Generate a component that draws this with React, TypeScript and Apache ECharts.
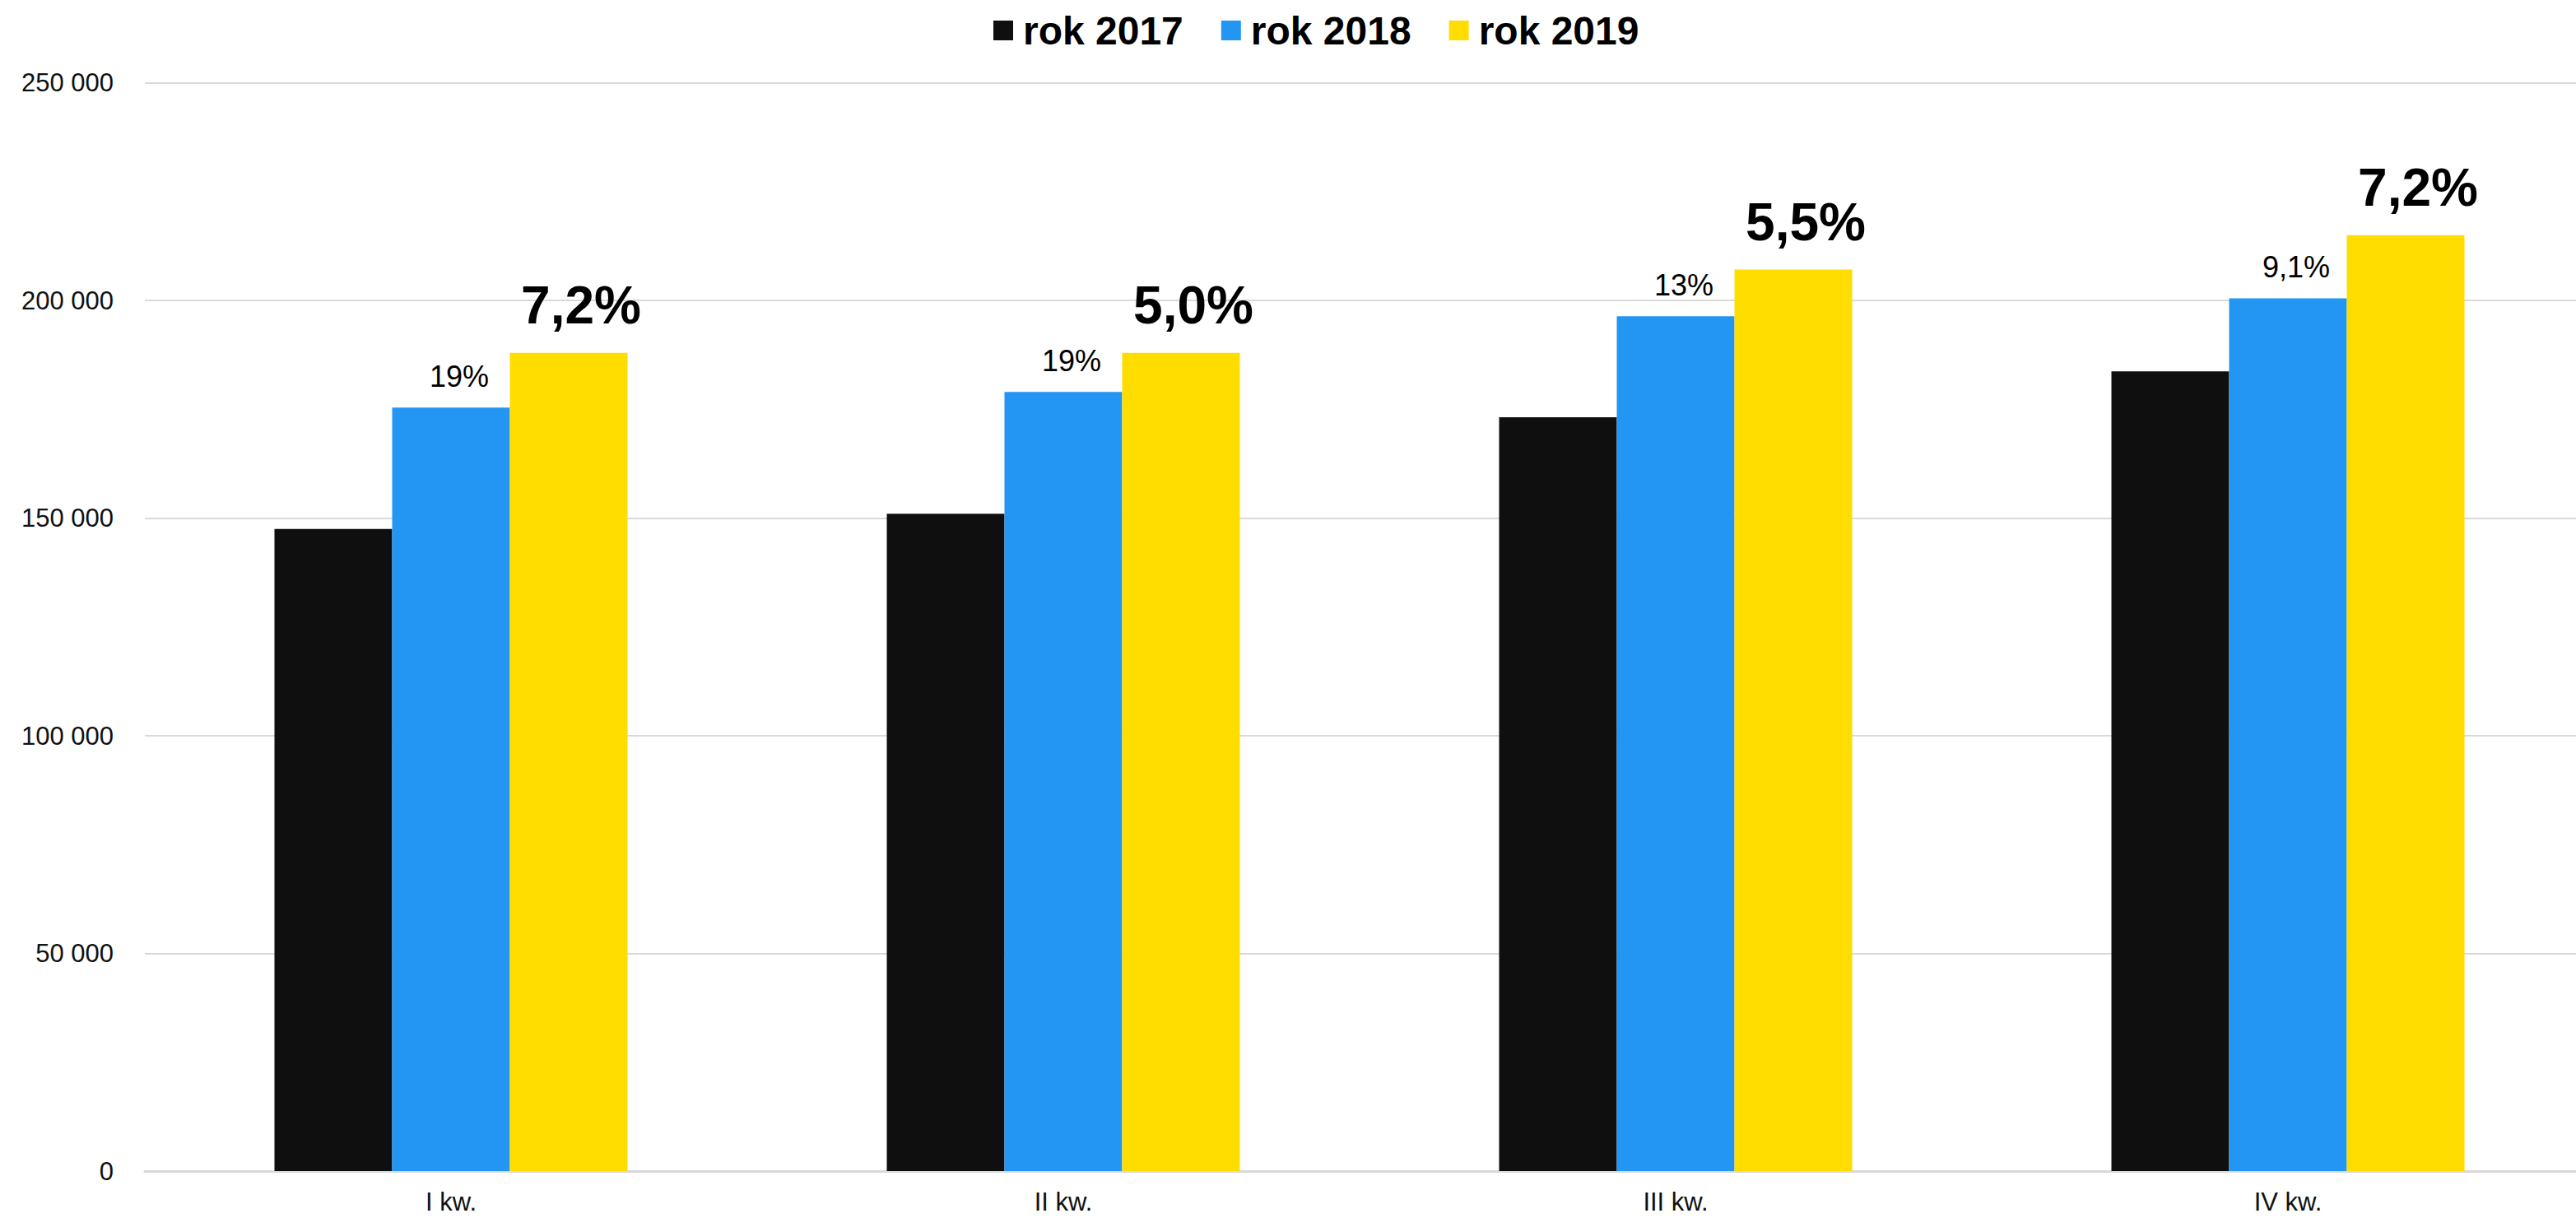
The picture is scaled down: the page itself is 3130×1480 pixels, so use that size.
import React, { useEffect, useRef } from "react";
import * as echarts from "echarts";

const categories = ["I kw.", "II kw.", "III kw.", "IV kw."];
const seriesNames = ["rok 2017", "rok 2018", "rok 2019"];
const values2017 = [147500, 151000, 173200, 183700];
const values2018 = [175400, 179000, 196400, 200500];
const values2019 = [188000, 188000, 207100, 215000];
const labels2018 = ["19%", "19%", "13%", "9,1%"];
const labels2019 = ["7,2%", "5,0%", "5,5%", "7,2%"];
const colors = ["#0f0f0f", "#2396f3", "#ffdd00"];

const FONT = "'Liberation Sans', Arial, sans-serif";

function fmt(v: number): string {
  return String(v).replace(/\B(?=(\d{3})+(?!\d))/g, " ");
}

export default function App() {
  const ref = useRef<HTMLDivElement>(null);
  useEffect(() => {
    if (!ref.current) return;
    const chart = echarts.init(ref.current, null, { renderer: "svg" });
    chart.setOption({
      animation: false,
      backgroundColor: "#ffffff",
      textStyle: { fontFamily: FONT },
      legend: {
        top: 8,
        left: 1202,
        itemWidth: 24,
        itemHeight: 24,
        itemGap: 46,
        icon: "rect",
        data: seriesNames,
        textStyle: {
          fontFamily: FONT,
          fontSize: 48,
          fontWeight: "bold",
          color: "#000",
          padding: [0, 0, 0, 7],
        },
      },
      grid: {
        left: 176,
        width: 2976,
        top: 100.7,
        height: 1322.3,
        containLabel: false,
        outerBoundsMode: "none",
      },
      xAxis: {
        type: "category",
        data: categories,
        axisLine: { lineStyle: { color: "#d9d9d9", width: 3 } },
        axisTick: { show: false },
        axisLabel: { fontFamily: FONT, fontSize: 31, color: "#111", margin: 22 },
      },
      yAxis: {
        type: "value",
        min: 0,
        max: 250000,
        interval: 50000,
        axisLine: { show: false },
        axisTick: { show: false },
        splitLine: { lineStyle: { color: "#d9d9d9", width: 2 } },
        axisLabel: {
          fontFamily: FONT,
          fontSize: 31,
          color: "#111",
          margin: 38,
          formatter: (v: number) => fmt(v),
        },
      },
      series: [
        {
          name: seriesNames[0],
          type: "bar",
          data: values2017,
          barWidth: 143,
          barGap: "0%",
          itemStyle: { color: colors[0] },
        },
        {
          name: seriesNames[1],
          type: "bar",
          data: values2018,
          barWidth: 143,
          barGap: "0%",
          itemStyle: { color: colors[1] },
          label: {
            show: true,
            position: "top",
            distance: 20,
            offset: [10, 0],
            fontFamily: FONT,
            fontSize: 36,
            color: "#000",
            formatter: (p: any) => labels2018[p.dataIndex],
          },
        },
        {
          name: seriesNames[2],
          type: "bar",
          data: values2019,
          barWidth: 143,
          barGap: "0%",
          itemStyle: { color: colors[2] },
          label: {
            show: true,
            position: "top",
            distance: 26,
            offset: [15, 0],
            fontFamily: FONT,
            fontSize: 64,
            fontWeight: "bold",
            color: "#000",
            formatter: (p: any) => labels2019[p.dataIndex],
          },
        },
      ],
    });
    return () => chart.dispose();
  }, []);
  return (
    <div
      ref={ref}
      style={{ position: "fixed", left: 0, top: 0, width: 3130, height: 1480 }}
    />
  );
}
